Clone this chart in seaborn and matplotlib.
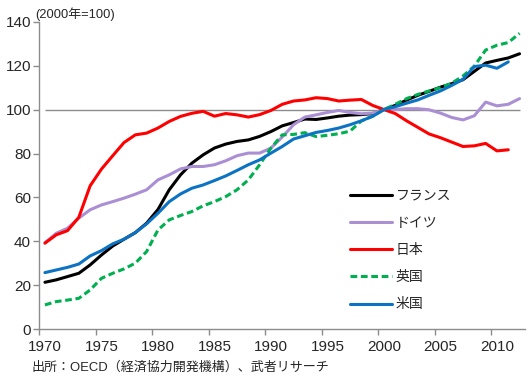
import numpy as np
import pandas as pd
import seaborn as sns
import matplotlib.pyplot as plt
from matplotlib.ticker import FixedLocator

# GDPデフレーター (2000年=100) 読み取り値
years = list(range(1970, 2013))
france = [21.4, 22.5, 24.0, 25.5, 29.3, 33.8, 37.9, 41.0, 44.0, 48.3, 54.5,
          63.5, 70.3, 75.6, 79.4, 82.5, 84.3, 85.5, 86.2, 87.8, 90.0,
          92.6, 94.1, 95.7, 95.5, 96.2, 97.0, 97.5, 97.7, 98.2, 100.0,
          101.9, 104.3, 106.5, 108.3, 110.2, 111.8, 113.6, 117.4, 121.2, 122.4,
          123.5, 125.4]
germany = [39.4, 43.7, 46.0, 50.6, 54.4, 56.6, 58.1, 59.7, 61.5, 63.5, 68.0,
           70.3, 73.0, 74.1, 74.1, 74.9, 76.7, 79.0, 80.2, 80.2, 82.5,
           87.5, 93.1, 96.6, 97.6, 98.7, 99.6, 98.7, 98.1, 98.4, 100.0,
           100.0, 100.4, 100.4, 99.9, 98.4, 96.4, 95.3, 97.2, 103.4, 101.7,
           102.4, 105.0]
japan = [39.2, 43.0, 44.9, 51.0, 65.3, 72.9, 79.0, 85.0, 88.5, 89.3, 91.6,
         94.6, 96.9, 98.3, 99.2, 97.0, 98.2, 97.6, 96.6, 97.7, 99.6,
         102.4, 103.9, 104.4, 105.4, 105.0, 103.9, 104.3, 104.6, 101.9, 100.0,
         98.2, 94.9, 91.9, 88.9, 87.2, 85.2, 83.2, 83.5, 84.6, 81.2,
         81.7]
uk = [11.1, 12.6, 13.3, 14.1, 17.9, 23.2, 25.5, 27.5, 30.1, 35.4, 45.2,
      49.8, 51.8, 53.6, 56.2, 58.1, 60.4, 63.5, 68.0, 74.9, 82.5,
      88.5, 88.7, 89.5, 87.7, 88.3, 89.0, 90.2, 94.8, 97.1, 100.0,
      102.4, 105.0, 106.9, 108.5, 110.0, 112.0, 115.3, 119.8, 127.1, 129.3,
      130.5, 134.7]
usa = [25.8, 27.0, 28.2, 29.7, 33.4, 35.8, 38.9, 41.0, 44.0, 48.0, 52.8,
       58.1, 61.6, 64.2, 65.7, 67.7, 69.8, 72.3, 74.9, 77.1, 80.2,
       83.2, 86.6, 88.1, 89.6, 90.5, 91.6, 93.1, 94.9, 96.9, 100.0,
       101.3, 102.9, 104.4, 106.5, 108.5, 111.0, 113.8, 119.6, 120.2, 118.8,
       121.7]

names = ['フランス', 'ドイツ', '日本', '英国', '米国']
series = [france, germany, japan, uk, usa]
colors = ['#000000', '#AB8FD4', '#FF0000', '#00B050', '#0B72C4']
styles = ['-', '-', '-', (0, (2.2, 1.2)), '-']

sns.set_style('white')
plt.rcParams['font.family'] = ['Liberation Sans', 'Noto Sans CJK JP']

fig = plt.figure(figsize=(5.28, 3.76), dpi=100)
ax = fig.add_axes([0.0744, 0.1242, 0.9203, 0.8181])

# 基準線 (100)
ax.hlines(100, years[0], years[-1], color='#8C8C8C', lw=1.0, zorder=1)

for name, vals, c, ls in zip(names, series, colors, styles):
    df = pd.DataFrame({'year': years[:len(vals)], 'value': vals})
    sns.lineplot(data=df, x='year', y='value', ax=ax, color=c, lw=2.2,
                 linestyle=ls, label=name, zorder=3)

ax.set_xlim(1969.5, 2012.5)
ax.set_ylim(0, 140)
ax.set_yticks(np.arange(0, 141, 20))
ax.set_xticks(np.arange(1970, 2011, 5))
ax.xaxis.set_minor_locator(FixedLocator(np.arange(1969.5, 2010, 5)))
ax.tick_params(axis='x', which='major', length=0, pad=8, labelsize=11)
ax.tick_params(axis='x', which='minor', length=4, width=1, color='#8C8C8C',
               direction='out', bottom=True)
ax.tick_params(axis='y', length=4, width=1, color='#8C8C8C', direction='out',
               left=True, pad=2, labelsize=11)
ax.set_xlabel('')
ax.set_ylabel('')
for s in ['top', 'right']:
    ax.spines[s].set_visible(False)
for s in ['left', 'bottom']:
    ax.spines[s].set_color('#8C8C8C')
    ax.spines[s].set_linewidth(1)

ax.legend(loc='upper left', bbox_to_anchor=(0.625, 0.48), frameon=False,
          fontsize=10, handlelength=3.0, handletextpad=0.3, labelspacing=0.95,
          borderpad=0)

fig.text(0.066, 0.962, '(2000年=100)', fontsize=9.3, va='center', ha='left')
fig.text(0.06, 0.022, '出所：OECD（経済協力開発機構）、武者リサーチ',
         fontsize=9.4, va='center', ha='left')

fig.savefig('out.png', dpi=100)
